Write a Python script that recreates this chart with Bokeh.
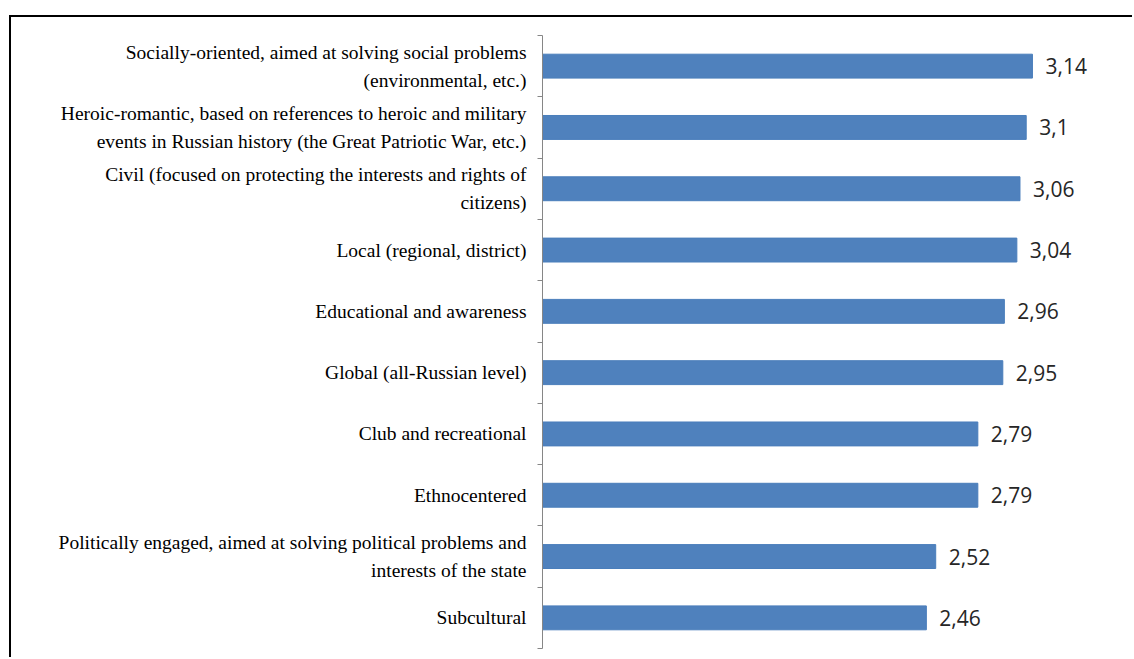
from bokeh.plotting import figure
from bokeh.models import Range1d, LinearAxis, FixedTicker, ColumnDataSource
from bokeh.core.properties import value
from bokeh.embed import file_html
from bokeh.resources import INLINE

categories = [
    "Socially-oriented, aimed at solving social problems\n(environmental, etc.)",
    "Heroic-romantic, based on references to heroic and military\nevents in Russian history (the Great Patriotic War, etc.)",
    "Civil (focused on protecting the interests and rights of\ncitizens)",
    "Local (regional, district)",
    "Educational and awareness",
    "Global (all-Russian level)",
    "Club and recreational",
    "Ethnocentered",
    "Politically engaged, aimed at solving political problems and\ninterests of the state",
    "Subcultural",
]
values = [3.14, 3.1, 3.06, 3.04, 2.96, 2.95, 2.79, 2.79, 2.52, 2.46]
value_labels = [str(v).replace(".", ",") for v in values]

n = len(categories)
ypos = [n - 1 - i for i in range(n)]  # first category at the top
bounds = [k - 0.5 for k in range(n + 1)]

src = ColumnDataSource(dict(y=ypos, val=values, lab=value_labels))

p = figure(
    width=1123, height=642,
    y_range=Range1d(-0.5, n - 0.5),
    x_range=Range1d(0, 3.794),
    output_backend="svg", toolbar_location=None,
    x_axis_location=None, y_axis_location=None,
    min_border_left=531, min_border_right=0, min_border_top=18, min_border_bottom=11,
)
p.styles = {"margin-top": "15px", "margin-left": "9px",
            "border-left": "2px solid black", "border-top": "2px solid black"}
p.outline_line_color = None
p.grid.visible = False
p.background_fill_color = "white"

cat_axis = LinearAxis(ticker=FixedTicker(ticks=ypos, minor_ticks=bounds))
cat_axis.major_label_overrides = {y: c for y, c in zip(ypos, categories)}
cat_axis.axis_line_color = "#868686"
cat_axis.major_tick_line_color = None
cat_axis.major_tick_out = 0
cat_axis.major_tick_in = 0
cat_axis.minor_tick_line_color = "#868686"
cat_axis.minor_tick_out = 5
cat_axis.minor_tick_in = 0
cat_axis.major_label_standoff = 11
cat_axis.major_label_text_font = "Liberation Serif"
cat_axis.major_label_text_font_size = "19.5px"
cat_axis.major_label_text_color = "black"
cat_axis.major_label_text_line_height = 1.33
p.add_layout(cat_axis, "left")

p.hbar(y="y", right="val", left=0, height=0.39, source=src,
       fill_color="#4F81BD", line_color="#4A7EBB", line_width=1)

p.text(x="val", y="y", text="lab", source=src, x_offset=13,
       text_baseline="middle", text_align="left",
       text_font=value("Open Sans"), text_font_size="21px", text_color="#262626")

open("out.html", "w").write(file_html(p, INLINE))
